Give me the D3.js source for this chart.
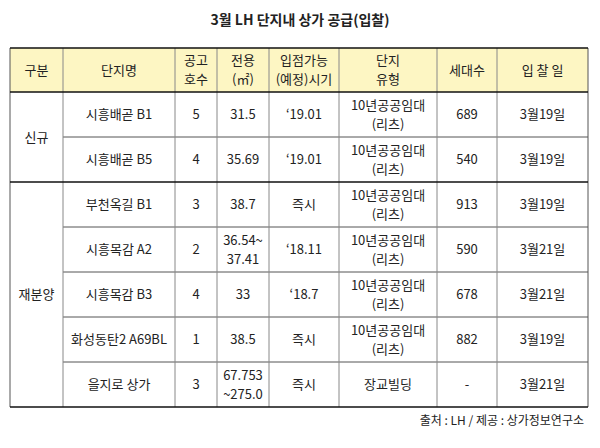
<!DOCTYPE html><html><head><meta charset="utf-8"><script src="https://cdn.jsdelivr.net/npm/d3@7"></script>
<style>body{margin:0;background:#fff}</style></head><body><svg id="c" width="600" height="448"></svg>
<script>
const title = "3월 LH 단지내 상가 공급(입찰)";
const source = "출처 : LH / 제공 : 상가정보연구소";
const headers = [["구분"],["단지명"],["공고","호수"],["전용","(㎡)"],["입점가능","(예정)시기"],["단지","유형"],["세대수"],["입 찰 일"]];
const groups = [{name:"신규", rows:2},{name:"재분양", rows:5}];
const names = ["시흥배곧 B1","시흥배곧 B5","부천옥길 B1","시흥목감 A2","시흥목감 B3","화성동탄2 A69BL","을지로 상가"];
const units = ["5","4","3","2","4","1","3"];
const areas = [["31.5"],["35.69"],["38.7"],["36.54~","37.41"],["33"],["38.5"],["67.753","~275.0"]];
const moveIn = ["‘19.01","‘19.01","즉시","‘18.11","‘18.7","즉시","즉시"];
const types = [["10년공공임대","(리츠)"],["10년공공임대","(리츠)"],["10년공공임대","(리츠)"],["10년공공임대","(리츠)"],["10년공공임대","(리츠)"],["10년공공임대","(리츠)"],["장교빌딩"]];
const households = ["689","540","913","590","678","882","-"];
const bidDates = ["3월19일","3월19일","3월19일","3월21일","3월21일","3월19일","3월21일"];

const svg = d3.select("#c");
const font = "'Malgun Gothic','Noto Sans CJK KR',sans-serif";
const colEdges = [10,63,175,217,269,339,437,497,588];
const x = i => colEdges[i];
const headerTop = 48, headerBot = 92, rowH = 45;
const y = d3.scaleLinear().domain([0, names.length]).range([headerBot, headerBot + rowH*names.length]);
const tableBot = y(names.length);

svg.append("text").attr("x",300).attr("y",25).attr("text-anchor","middle")
  .attr("font-family",font).attr("font-weight","bold").attr("font-size",14).attr("fill","#222").text(title);

svg.append("rect").attr("x",x(0)).attr("y",headerTop).attr("width",x(8)-x(0)).attr("height",headerBot-headerTop).attr("fill","#fdf6c3");

function cell(ci, yc, lines){
  const cx = (x(ci)+x(ci+1))/2, lh = 19;
  lines.forEach((t,k)=>{
    svg.append("text").attr("x",cx).attr("y",yc + (k-(lines.length-1)/2)*lh).attr("dy","0.36em")
      .attr("text-anchor","middle").attr("font-family",font).attr("font-size",13).attr("fill","#222").text(t);
  });
}
headers.forEach((h,i)=>cell(i,(headerTop+headerBot)/2,h));
names.forEach((n,r)=>{
  const yc = (y(r)+y(r+1))/2;
  cell(1,yc,[n]); cell(2,yc,[units[r]]); cell(3,yc,areas[r]); cell(4,yc,[moveIn[r]]);
  cell(5,yc,types[r]); cell(6,yc,[households[r]]); cell(7,yc,[bidDates[r]]);
});
let start=0;
groups.forEach(g=>{ cell(0,(y(start)+y(start+g.rows))/2,[g.name]); start+=g.rows; });

// lines
const line=(x1,y1,x2,y2,c,w)=>svg.append("line").attr("x1",x1).attr("y1",y1).attr("x2",x2).attr("y2",y2).attr("stroke",c).attr("stroke-width",w);
for(let r=1;r<names.length;r++){ if(r!==2) line(x(1),y(r),x(8),y(r),"#555",1); }
colEdges.forEach((cx,i)=>line(cx,headerTop,cx,tableBot,(i===0||i===8)?"#555":"#888",1));
line(x(0),headerTop,x(8),headerTop,"#111",1.5);
line(x(0),headerBot,x(8),headerBot,"#111",1.5);
line(x(0),y(2),x(8),y(2),"#111",1.5);
line(x(0),tableBot,x(8),tableBot,"#111",1.5);

svg.append("text").attr("x",584).attr("y",425).attr("text-anchor","end")
  .attr("font-family",font).attr("font-size",12).attr("fill","#222").text(source);
</script></body></html>
